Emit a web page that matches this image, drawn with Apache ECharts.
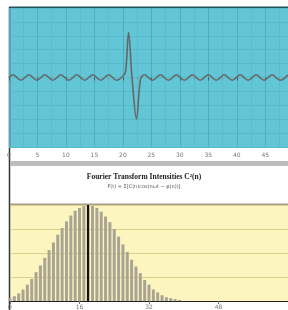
<!DOCTYPE html>
<html>
<head>
<meta charset="utf-8">
<script src="https://cdn.jsdelivr.net/npm/echarts@6/dist/echarts.min.js"></script>
<style>
html, body { margin: 0; padding: 0; background: #fff; }
#chart { width: 288px; height: 310px; }
</style>
</head>
<body>
<div id="chart"></div>
<script>
// time signal: small ripple with a spike near t=21
var signal = [
  [0, 0], [0.7, 0.04], [2.1, -0.04], [3.5, 0.04], [4.9, -0.04], [6.3, 0.04],
  [7.7, -0.04], [9.1, 0.04], [10.5, -0.04], [11.9, 0.04], [13.3, -0.04],
  [14.7, 0.04], [16.1, -0.04], [17.5, 0.04], [18.9, -0.04], [20.1, 0.03],
  [20.5, 0.1], [21.0, 0.65], [21.6, 0], [22.4, -0.6], [23.1, -0.02],
  [23.8, 0.04], [25.2, -0.04], [26.6, 0.04], [28.0, -0.04], [29.4, 0.04],
  [30.8, -0.04], [32.2, 0.04], [33.6, -0.04], [35.0, 0.04], [36.4, -0.04],
  [37.8, 0.04], [39.2, -0.04], [40.6, 0.04], [42.0, -0.04], [43.4, 0.04],
  [44.8, -0.04], [46.2, 0.04], [47.6, -0.04], [49.0, 0.04]
];

// fourier intensities C^2(n), n = 0..39
var harmonics = [];
for (var i = 0; i < 40; i++) harmonics.push(i);
var intensity = [
  0.03, 0.05, 0.08, 0.12, 0.17, 0.23, 0.30, 0.37, 0.45, 0.53,
  0.61, 0.69, 0.76, 0.83, 0.89, 0.94, 0.97, 0.99, 1.00, 0.99,
  0.97, 0.93, 0.88, 0.82, 0.75, 0.67, 0.59, 0.51, 0.43, 0.36,
  0.29, 0.22, 0.17, 0.12, 0.09, 0.06, 0.04, 0.03, 0.02, 0.01
];
var peakN = 18;

var titleText = 'Fourier Transform Intensities C\u00b2(n)';
var subText = 'F(t) = \u03a3[C(n)cos(n\u03c9t \u2212 \u03c6(n))]';

var chart = echarts.init(document.getElementById('chart'), null, { renderer: 'canvas' });

var bars = harmonics.map(function (n, k) { return [n, intensity[k]]; });

var option = {
  animation: false,
  backgroundColor: '#fff',
  grid: [
    { left: 9, right: 0, top: 8, height: 139, show: true, backgroundColor: '#62c6d6', borderWidth: 0,
      containLabel: false, outerBoundsMode: 'none' },
    { left: 10, right: 0, top: 205, height: 96, show: true, backgroundColor: '#fcf5c0', borderWidth: 0,
      containLabel: false, outerBoundsMode: 'none' }
  ],
  xAxis: [
    {
      gridIndex: 0, type: 'value', min: 0, max: 49, interval: 5,
      axisLine: { show: false },
      axisTick: { show: true, length: 3, lineStyle: { color: '#555' } },
      minorTick: { show: true, splitNumber: 2, length: 2, lineStyle: { color: '#888' } },
      axisLabel: { fontSize: 6, color: '#777', margin: 5, fontFamily: 'DejaVu Sans', showMaxLabel: false },
      splitLine: { show: true, lineStyle: { color: '#4eaebd', width: 1 } },
      minorSplitLine: { show: true, lineStyle: { color: '#5bbccb', width: 1 } }
    },
    {
      gridIndex: 1, type: 'value', min: 0, max: 64, interval: 16,
      axisLine: { show: true, lineStyle: { color: '#222', width: 1 } },
      axisTick: { show: true, length: 3, lineStyle: { color: '#777' } },
      axisLabel: { fontSize: 6, color: '#777', margin: 3, fontFamily: 'DejaVu Sans', showMaxLabel: false },
      splitLine: { show: false }
    }
  ],
  yAxis: [
    {
      gridIndex: 0, type: 'value', min: -1, max: 1, interval: 0.2,
      axisLine: { show: false }, axisTick: { show: false }, axisLabel: { show: false },
      splitLine: { show: true, lineStyle: { color: '#58b9c8', width: 1 } }
    },
    {
      gridIndex: 1, type: 'value', min: 0, max: 1, interval: 0.25,
      axisLine: { show: false }, axisTick: { show: false }, axisLabel: { show: false },
      splitLine: { show: true, lineStyle: { color: '#dcd088', width: 1 } }
    }
  ],
  series: [
    {
      type: 'line', xAxisIndex: 0, yAxisIndex: 0,
      data: signal, smooth: 0.35, showSymbol: false,
      lineStyle: { color: '#676767', width: 1.6 }
    },
    {
      type: 'bar', xAxisIndex: 1, yAxisIndex: 1,
      data: bars, barWidth: 3,
      itemStyle: { color: '#aaa493' },
      markLine: {
        symbol: 'none', silent: true, label: { show: false },
        lineStyle: { color: '#111', width: 2, type: 'solid' },
        data: [{ xAxis: peakN }]
      }
    }
  ],
  graphic: [
    // frame lines
    { type: 'line', shape: { x1: 9, y1: 7.5, x2: 288, y2: 7.5 }, style: { stroke: '#23545b', lineWidth: 2 } },
    { type: 'line', shape: { x1: 9.5, y1: 7, x2: 9.5, y2: 310 }, style: { stroke: '#2a3a3c', lineWidth: 1.5 } },
    { type: 'rect', shape: { x: 10, y: 161, width: 278, height: 5 }, style: { fill: '#bdbdbd' } },
    { type: 'line', shape: { x1: 10, y1: 204.5, x2: 288, y2: 204.5 }, style: { stroke: '#a39d8c', lineWidth: 2 } },
    {
      type: 'text', left: 'center', top: 173,
      style: { text: titleText, font: 'bold 7.5px "Liberation Serif"', fill: '#222' }
    },
    {
      type: 'text', left: 'center', top: 184,
      style: { text: subText, font: '5px "DejaVu Sans"', fill: '#555' }
    }
  ]
};

chart.setOption(option);
</script>
</body>
</html>
